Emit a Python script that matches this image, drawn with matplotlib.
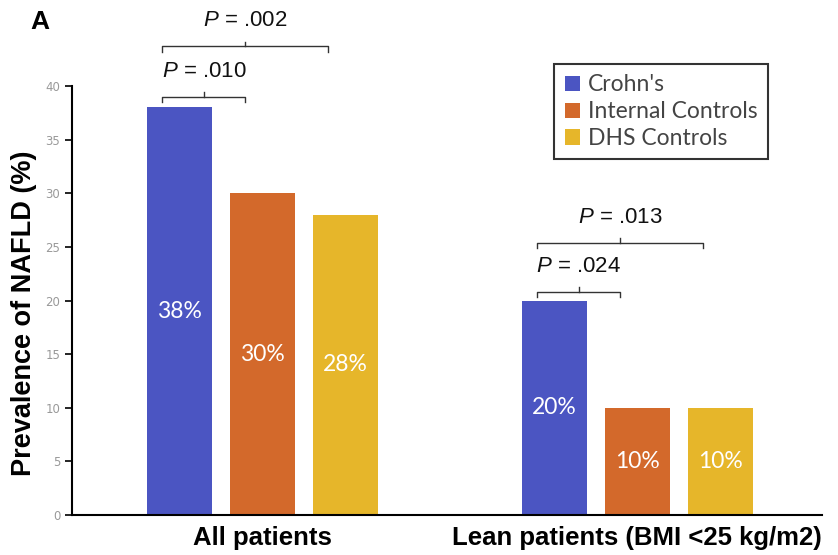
import matplotlib.pyplot as plt
import numpy as np

groups = ['All patients', 'Lean patients (BMI <25 kg/m2)']
series = ["Crohn's", 'Internal Controls', 'DHS Controls']
values = [[38, 20], [30, 10], [28, 10]]
colors = ['#4B55C2', '#D3692B', '#E6B62A']
# (group, first bar, second bar, p text, bracket height)
pvals = [(0, 0, 1, '.010', 39.0), (0, 0, 2, '.002', 43.7),
         (1, 0, 1, '.024', 20.8), (1, 0, 2, '.013', 25.4)]

plt.rcParams['mathtext.fontset'] = 'custom'
plt.rcParams['mathtext.rm'] = 'Liberation Sans'
plt.rcParams['mathtext.it'] = 'Liberation Sans:italic'

fig = plt.figure(figsize=(8.38, 5.55), dpi=100)
ax = fig.add_axes([0.086, 0.072, 0.895, 0.773])

x = np.arange(len(groups))
step = 0.221
width = 0.173
for i, name in enumerate(series):
    pos = x + (i - 1) * step
    ax.bar(pos, values[i], width, color=colors[i], label=name)
    for p, v in zip(pos, values[i]):
        ax.text(p, v / 2, f'{v}%', color='white', ha='center', va='center',
                fontsize=16.5, family='Lato')

for g, a, b, txt, h in pvals:
    x0 = x[g] + (a - 1) * step - 0.045
    x1 = x[g] + (b - 1) * step - 0.045
    xm = (x0 + x1) / 2
    ax.plot([x0, x0, x1, x1], [h - 0.5, h, h, h - 0.5], color='#333333', lw=1, clip_on=False)
    ax.plot([xm, xm], [h, h + 0.45], color='#333333', lw=1, clip_on=False)
    ax.text(xm, h + 1.4, f'$P$ = {txt}', ha='center', va='bottom', fontsize=16,
            family='Liberation Sans', color='#111111', clip_on=False)

ax.set_xlim(-0.507, 1.493)
ax.set_ylim(0, 40)
ax.set_yticks(range(0, 41, 5))
ax.set_xticks(x)
ax.set_xticklabels(groups, fontsize=18.5, fontweight='bold', family='Liberation Sans')
ax.tick_params(axis='x', length=0, pad=8)
ax.tick_params(axis='y', labelsize=8.5, labelcolor='#999999', length=5, width=1.2)
for s in ['top', 'right']:
    ax.spines[s].set_visible(False)
for s in ['left', 'bottom']:
    ax.spines[s].set_linewidth(1.5)
ax.set_ylabel('Prevalence of NAFLD (%)', fontsize=19.5, fontweight='bold',
              family='Liberation Sans')
ax.yaxis.set_label_coords(-0.047, 0.47)

leg = fig.legend(loc='upper left', bbox_to_anchor=(0.648, 0.905), frameon=True,
                 fancybox=False, edgecolor='black', handlelength=0.65, handleheight=0.65,
                 handletextpad=0.35, labelspacing=0.25, borderpad=0.45,
                 prop={'family': 'Lato', 'size': 16.5})
leg.get_frame().set_linewidth(1.5)
for t in leg.get_texts():
    t.set_color('#444444')

fig.text(0.036, 0.96, 'A', fontsize=19, fontweight='bold', family='Liberation Sans',
         va='center', ha='left')

fig.savefig('out.png', dpi=100)
